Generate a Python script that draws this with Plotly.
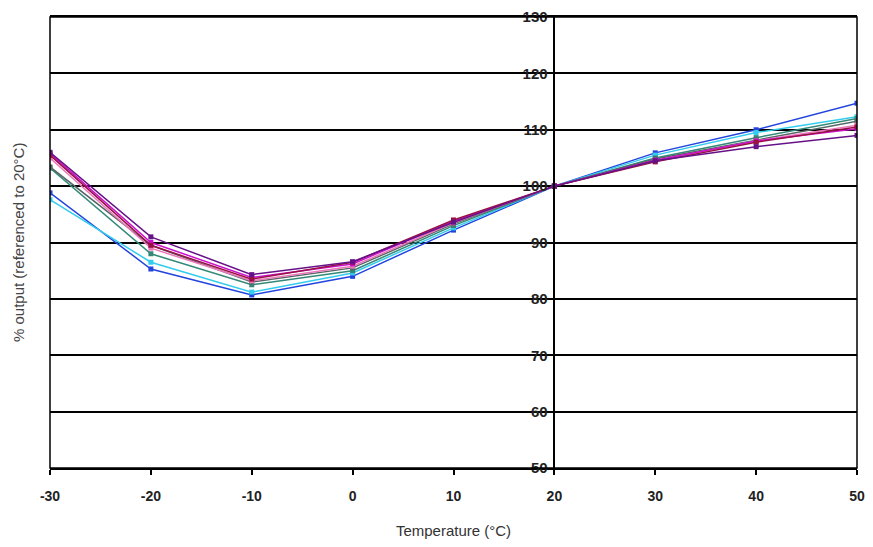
import plotly.graph_objects as go

temps = [-30, -20, -10, 0, 10, 20, 30, 40, 50]
x_tick_vals = [-30, -20, -10, 0, 10, 20, 30, 40, 50]
x_tick_text = ["-30", "-20", "-10", "0", "10", "20", "30", "40", "50"]
y_tick_vals = [50, 60, 70, 80, 90, 100, 110, 120, 130]
y_tick_text = ["50", "60", "70", "80", "90", "100", "110", "120", "130"]

series_names = ["S1", "S2", "S3", "S4", "S5", "S6", "S7", "S8"]
s1 = [98.8, 85.3, 80.7, 84.0, 92.2, 100, 105.9, 110.0, 114.7]
s2 = [97.6, 86.5, 81.2, 84.6, 92.6, 100, 105.5, 109.5, 112.3]
s3 = [103.2, 88.0, 82.5, 85.0, 93.0, 100, 105.0, 108.6, 112.0]
s4 = [103.4, 89.5, 83.0, 85.5, 93.3, 100, 104.8, 108.2, 111.5]
s5 = [105.0, 89.0, 83.2, 85.8, 93.5, 100, 104.5, 108.0, 110.8]
s6 = [105.8, 90.0, 83.8, 86.2, 93.8, 100, 104.6, 108.0, 110.2]
s7 = [105.5, 89.5, 83.5, 86.5, 94.0, 100, 104.3, 107.8, 110.5]
s8 = [106.0, 91.0, 84.3, 86.6, 93.6, 100, 104.5, 107.0, 109.0]
all_series = [s1, s2, s3, s4, s5, s6, s7, s8]
colors = ["#2244dd", "#33ccee", "#338877", "#556666", "#ee77bb", "#cc11cc", "#991144", "#661188"]

FONT = "Liberation Sans, Arial, sans-serif"

fig = go.Figure()
for name, ys, c in zip(series_names, all_series, colors):
    fig.add_trace(go.Scatter(
        x=temps, y=ys, name=name, mode="lines+markers",
        line=dict(color=c, width=1.5),
        marker=dict(symbol="square", size=5, color=c),
        showlegend=False,
    ))

# page body has an 8px margin, so the figure is sized to fit the rest of the window
fig.update_layout(
    width=865, height=531,
    margin=dict(l=42, r=16, t=9, b=71),
    paper_bgcolor="white", plot_bgcolor="white",
    font=dict(family=FONT, color="#222"),
    xaxis=dict(
        range=[-30, 50], tickvals=x_tick_vals, ticktext=x_tick_text,
        showgrid=False, zeroline=False, automargin=False,
        showline=True, linecolor="black", linewidth=1.5, mirror=True,
        ticks="outside", ticklen=5, tickcolor="black", tickwidth=1.5,
        ticklabelstandoff=9, ticklabeloverflow="allow",
        tickfont=dict(size=14, family=FONT, color="#222", weight="bold"),
        title=dict(text="Temperature (°C)", font=dict(size=15, color="#333"), standoff=28),
    ),
    yaxis=dict(
        range=[50, 130], tickvals=y_tick_vals, ticktext=y_tick_text,
        showgrid=True, gridcolor="black", gridwidth=1.5,
        zeroline=False, automargin=False,
        anchor="free", position=0.625,
        showline=True, linecolor="black", linewidth=1.5,
        ticks="", ticklabelstandoff=3,
        tickfont=dict(size=15, family=FONT, color="#222", weight="bold"),
    ),
    shapes=[dict(type="rect", xref="paper", yref="paper", x0=0, x1=1, y0=0, y1=1,
                 line=dict(color="black", width=1.5), layer="above")],
    annotations=[dict(text="% output (referenced to 20°C)", xref="paper", yref="paper",
                      x=-0.039, y=0.5, textangle=-90, showarrow=False,
                      xanchor="center", yanchor="middle",
                      font=dict(size=15, color="#444"))],
)

fig.write_html("out.html")
